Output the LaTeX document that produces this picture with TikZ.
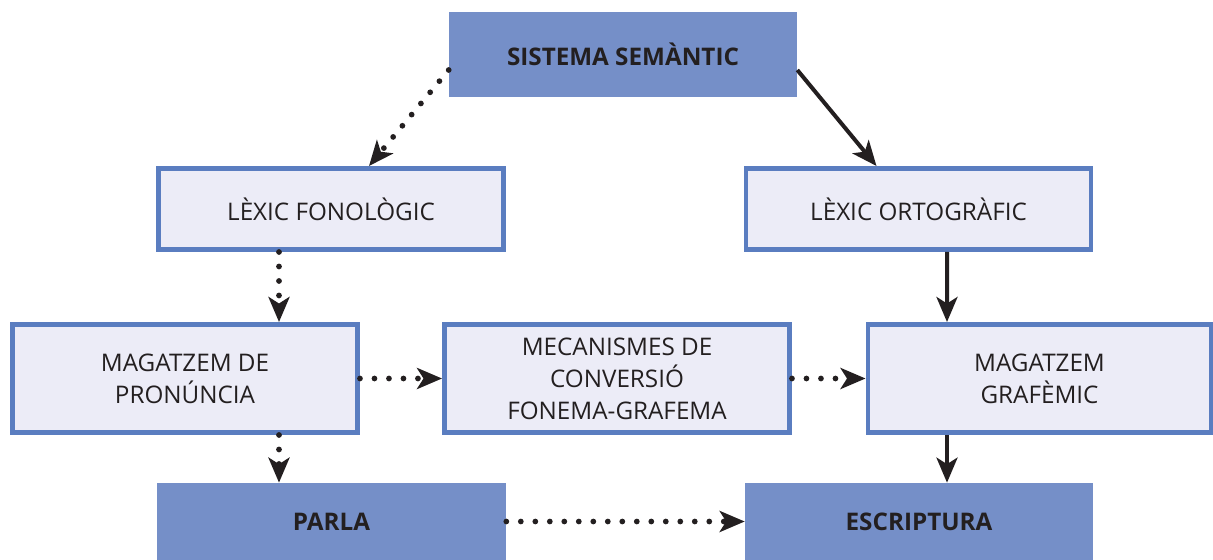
\documentclass[tikz,border=0pt]{standalone}
\usepackage{fontspec}
\setmainfont{Open Sans}
\usetikzlibrary{arrows.meta,calc}
\definecolor{semblue}{HTML}{758FC8}
\definecolor{edgeblue}{HTML}{5A7DC0}
\definecolor{palefill}{HTML}{ECECF7}
\definecolor{inkgray}{HTML}{231F20}
\tikzset{
  darkbox/.style={fill=semblue,text=inkgray,inner sep=0pt,minimum width=6.96cm,
    font=\fontsize{13.8}{18.2}\selectfont\bfseries},
  palebox/.style={draw=edgeblue,fill=palefill,text=inkgray,line width=0.09cm,inner sep=0pt,
    minimum width=6.91cm,minimum height=1.63cm,align=center,font=\fontsize{13.8}{18.2}\selectfont},
  tipa/.tip={Stealth[length=0.5cm,width=0.42cm,inset=0.13cm]},
  dotarrow/.style={-tipa,inkgray,line width=0.115cm,line cap=round,dash pattern=on 0pt off 0.29cm},
  fullarrow/.style={-tipa,inkgray,line width=0.08cm}
}
\begin{document}
\begin{tikzpicture}[x=0.02cm,y=-0.02cm]
    \useasboundingbox (0,0) rectangle (1213,560);
    \node[darkbox,minimum height=1.7cm] (sem) at (623,54.5) {SISTEMA SEMÀNTIC};
    \node[palebox] (fon) at (331,209) {LÈXIC FONOLÒGIC};
    \node[palebox] (orto) at (918.5,209) {LÈXIC ORTOGRÀFIC};
    \node[palebox,minimum height=2.17cm] (pron) at (185,378.5) {MAGATZEM DE\\PRONÚNCIA};
    \node[palebox,minimum height=2.17cm] (conv) at (617,378.5) {MECANISMES DE\\CONVERSIÓ\\FONEMA-GRAFEMA};
    \node[palebox,minimum height=2.17cm,minimum width=6.87cm] (graf) at (1039.5,378.5) {MAGATZEM\\GRAFÈMIC};
    \node[darkbox,minimum height=1.54cm,minimum width=6.98cm] (parla) at (331.5,521.5) {PARLA};
    \node[darkbox,minimum height=1.54cm] (escr) at (919,521.5) {ESCRIPTURA};
    %dotted route (left) and solid route (right)
    \draw[dotarrow] ($(sem.west)+(0,15.5)$) -- ($(fon.north)+(38,0)$);
    \draw[fullarrow] ($(sem.east)+(0,15.5)$) -- ($(orto.north)+(-42,0)$);
    \draw[dotarrow] ($(fon.south)+(-52,0)$) -- ($(pron.north)+(94,0)$);
    \draw[fullarrow] ($(orto.south)+(28.5,0)$) -- ($(graf.north)+(-92.5,0)$);
    \draw[dotarrow] (pron.east) -- (conv.west);
    \draw[dotarrow] (conv.east) -- (graf.west);
    \draw[dotarrow] ($(pron.south)+(94,0)$) -- ($(parla.north)+(-52.5,0)$);
    \draw[fullarrow] ($(graf.south)+(-92.5,0)$) -- ($(escr.north)+(28,0)$);
    \draw[dotarrow] (parla.east) -- (escr.west);
\end{tikzpicture}
\end{document}
